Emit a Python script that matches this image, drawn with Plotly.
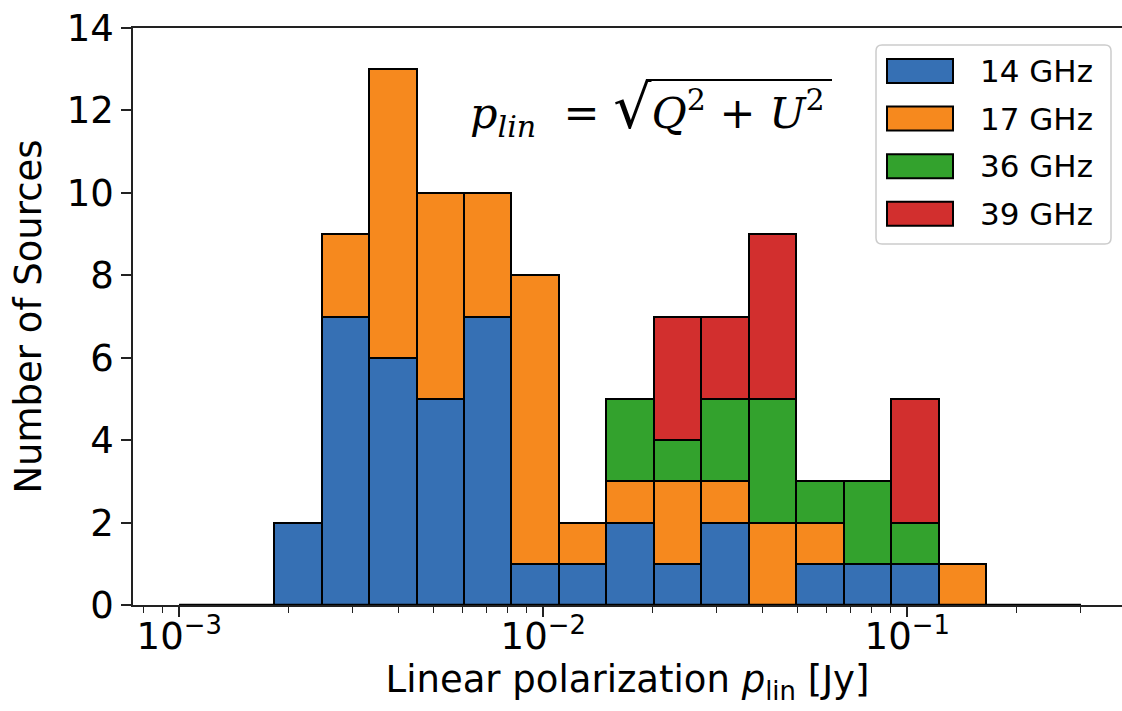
import math
import plotly.graph_objects as go

# ---- data ----
# histogram bin edges (log10 of Jy)
log_edges = [-3.0000, -2.8696, -2.7393, -2.6089, -2.4785, -2.3481, -2.2178,
             -2.0874, -1.9570, -1.8266, -1.6963, -1.5659, -1.4355, -1.3051,
             -1.1747, -1.0444, -0.9140, -0.7836, -0.6533, -0.5229]
series_names = ["14 GHz", "17 GHz", "36 GHz", "39 GHz"]
counts_14 = [0, 0, 2, 7, 6, 5, 7, 1, 1, 2, 1, 2, 0, 1, 1, 1, 0, 0, 0]
counts_17 = [0, 0, 0, 2, 7, 5, 3, 7, 1, 1, 2, 1, 2, 1, 0, 0, 1, 0, 0]
counts_36 = [0, 0, 0, 0, 0, 0, 0, 0, 0, 2, 1, 2, 3, 1, 2, 1, 0, 0, 0]
counts_39 = [0, 0, 0, 0, 0, 0, 0, 0, 0, 0, 3, 2, 4, 0, 0, 3, 0, 0, 0]
colors = ["#3670b4", "#f6891e", "#33a22d", "#d22f2e"]
major_exps = [-3, -2, -1]
y_ticks = [0, 2, 4, 6, 8, 10, 12, 14]

centers = [(a + b) / 2 for a, b in zip(log_edges[:-1], log_edges[1:])]
widths = [b - a for a, b in zip(log_edges[:-1], log_edges[1:])]

FONT = "DejaVu Sans"
W, H = 1122, 711
ML, MR, MT, MB = 133, 0, 28, 106
PW, PH = W - ML - MR, H - MT - MB


def px(x):  # pixel -> paper x
    return (x - ML) / PW


def py(y):  # pixel -> paper y
    return (H - MB - y) / PH


fig = go.Figure()

for name, vals, col in zip(series_names, [counts_14, counts_17, counts_36, counts_39], colors):
    fig.add_trace(go.Bar(
        x=centers, y=vals, width=widths, name=name,
        marker=dict(color=col, line=dict(color="black", width=2)),
    ))

# outline of empty bins along zero
fig.add_trace(go.Scatter(
    x=[log_edges[0], log_edges[-1]], y=[0, 0], mode="lines",
    line=dict(color="black", width=2.5), showlegend=False, hoverinfo="skip",
    cliponaxis=False,
))

minor_vals = [math.log10(m) + e for e in [-4, -3, -2, -1, 0] for m in range(2, 10)]

fig.update_layout(
    width=W, height=H,
    margin=dict(l=ML, r=MR, t=MT, b=MB),
    paper_bgcolor="white", plot_bgcolor="white",
    barmode="stack", bargap=0,
    font=dict(family=FONT, color="black"),
    showlegend=False,
    xaxis=dict(
        range=[-3.127, -0.410], showgrid=False, zeroline=False,
        showline=True, linecolor="#222", linewidth=1.5, mirror=True,
        ticks="outside", ticklen=10, tickwidth=1.5, tickcolor="#222",
        tickmode="array", tickvals=major_exps,
        ticktext=["10<sup>\u2212%d</sup>" % (-e) for e in major_exps],
        tickfont=dict(size=37, family=FONT), ticklabelstandoff=-12,
        minor=dict(tickmode="array", tickvals=minor_vals, ticks="outside",
                   ticklen=6, tickwidth=1.2, tickcolor="#222", showgrid=False),
        title=dict(text="Linear polarization <i>p</i><sub>lin</sub> [Jy]",
                   font=dict(size=37, family=FONT), standoff=2),
    ),
    yaxis=dict(
        range=[0, 14], showgrid=False, zeroline=False,
        showline=True, linecolor="#222", linewidth=1.5, mirror=False,
        ticks="outside", ticklen=10, tickwidth=1.5, tickcolor="#222",
        tickmode="array", tickvals=y_ticks,
        tickfont=dict(size=37, family=FONT),
        title=dict(text="Number of Sources", font=dict(size=37, family=FONT), standoff=14),
    ),
)

# ---- legend box (matplotlib style) ----
bx0, bx1, by0, by1, r = 876, 1111, 45, 244, 6
path = (f"M {px(bx0 + r)},{py(by0)} L {px(bx1 - r)},{py(by0)} "
        f"Q {px(bx1)},{py(by0)} {px(bx1)},{py(by0 + r)} "
        f"L {px(bx1)},{py(by1 - r)} Q {px(bx1)},{py(by1)} {px(bx1 - r)},{py(by1)} "
        f"L {px(bx0 + r)},{py(by1)} Q {px(bx0)},{py(by1)} {px(bx0)},{py(by1 - r)} "
        f"L {px(bx0)},{py(by0 + r)} Q {px(bx0)},{py(by0)} {px(bx0 + r)},{py(by0)} Z")
fig.add_shape(type="path", xref="paper", yref="paper", path=path,
              fillcolor="rgba(255,255,255,0.85)", line=dict(color="#cccccc", width=1.5))
row0, dy = 71, 47.6
for i, (name, col) in enumerate(zip(series_names, colors)):
    cy = row0 + i * dy
    fig.add_shape(type="rect", xref="paper", yref="paper",
                  x0=px(887), x1=px(953), y0=py(cy - 12), y1=py(cy + 12),
                  fillcolor=col, line=dict(color="black", width=2))
    fig.add_annotation(xref="paper", yref="paper", x=px(978), y=py(cy),
                       xanchor="left", yanchor="middle", text=name, showarrow=False,
                       font=dict(size=31, family=FONT, color="black"))

# formula annotation
fig.add_annotation(
    xref="paper", yref="paper", x=px(468), y=py(108), xanchor="left", yanchor="middle",
    text=("<i>p<sub>lin</sub></i>  = <span style='font-size:60px'>\u221a</span>"
          "<i>Q</i><sup>2</sup> + <i>U</i><sup>2</sup>"),
    showarrow=False, font=dict(size=43, family="DejaVu Serif", color="black"),
)
fig.add_shape(type="line", xref="paper", yref="paper",
              x0=px(646), x1=px(832), y0=py(80), y1=py(80),
              line=dict(color="black", width=2))

fig.write_html("out.html")
